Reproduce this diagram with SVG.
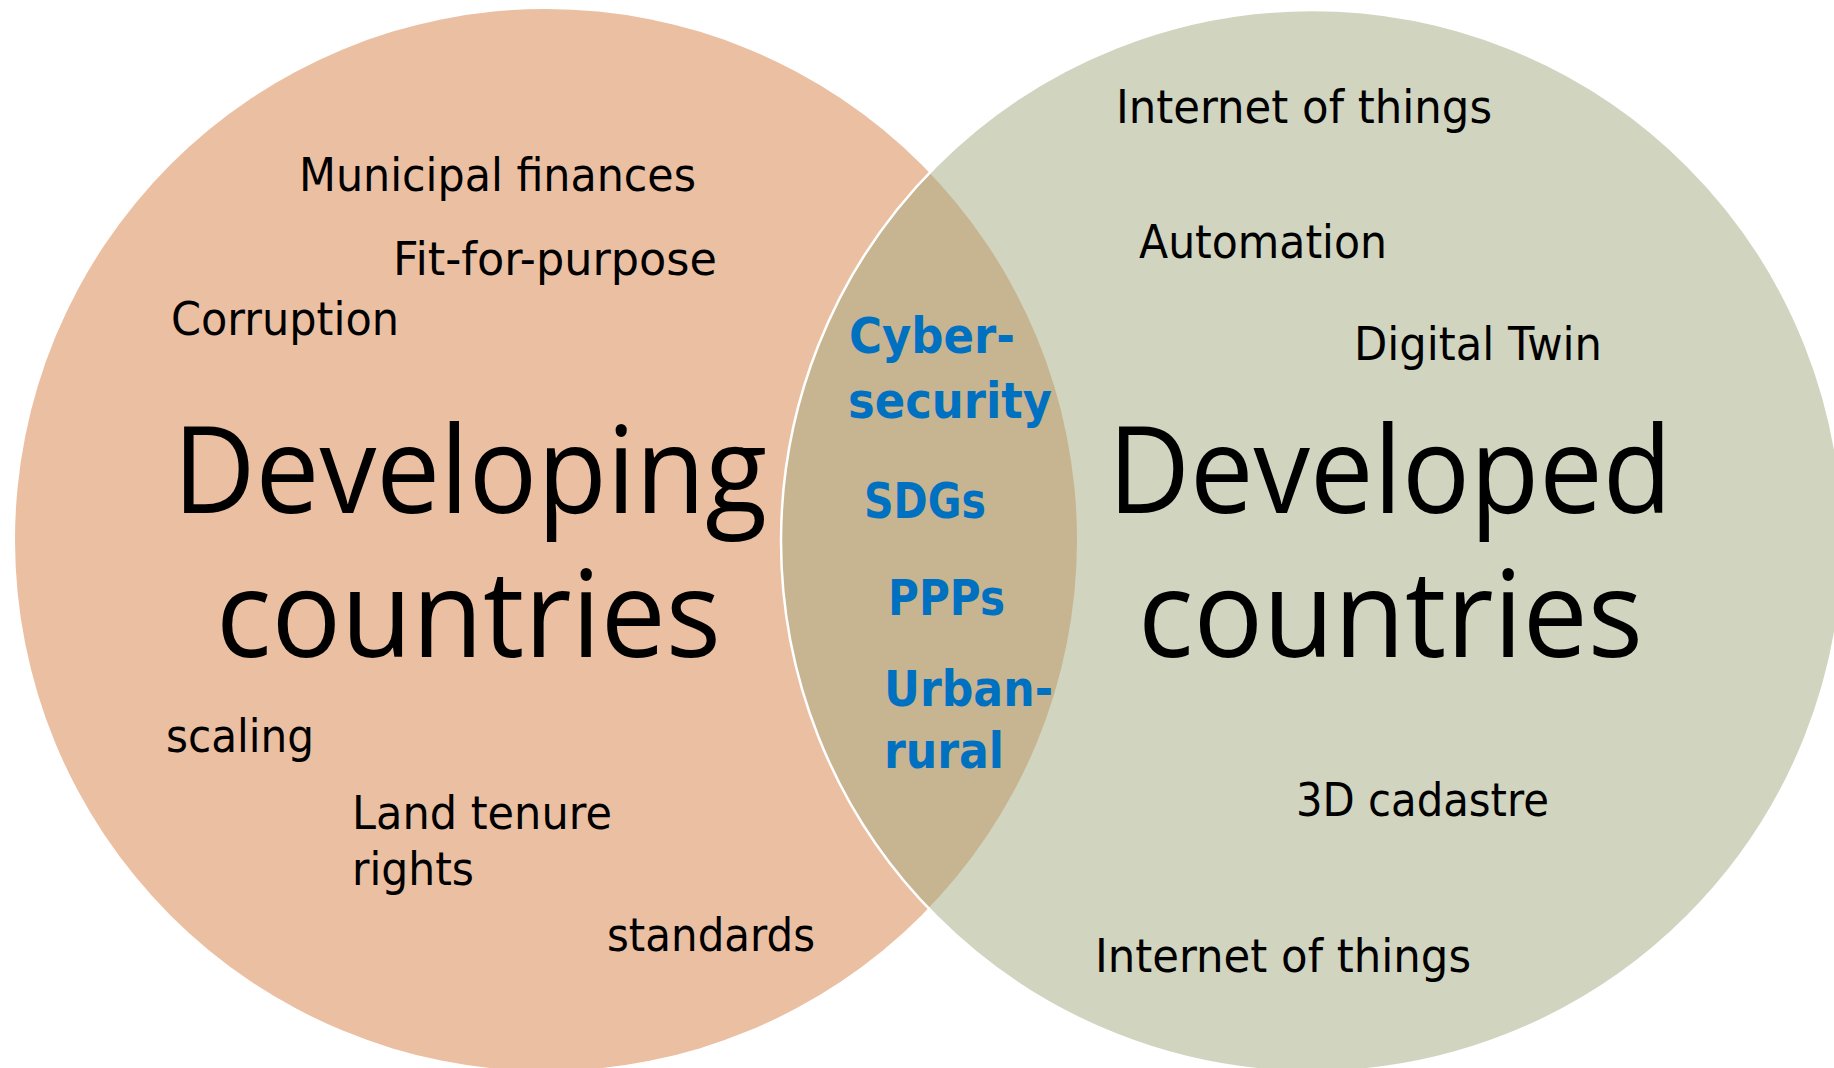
<svg xmlns="http://www.w3.org/2000/svg" width="1834" height="1068" viewBox="0 0 1834 1068">
  <style>
    .lbl { font-family: "DejaVu Sans", "Liberation Sans", sans-serif; font-size: 47px; fill: #000; }
    .big { font-family: "Open Sans", "Noto Sans", sans-serif; font-size: 121px; fill: #000; }
    .mid { font-family: "DejaVu Sans", "Liberation Sans", sans-serif; font-weight: bold; font-size: 50px; fill: #0070C0; }
  </style>
  <rect width="1834" height="1068" fill="#ffffff"/>
  <g id="developing">
    <circle cx="546" cy="540" r="531" fill="#EBBFA2"/>
  </g>
  <g id="developed">
    <circle cx="1312" cy="541" r="531" fill="rgb(163,169,127)" fill-opacity="0.5" stroke="#ffffff" stroke-width="2.5"/>
  </g>
  <g id="developing-labels">
    <text class="big" x="173" y="513" textLength="594" lengthAdjust="spacingAndGlyphs">Developing</text>
    <text class="big" x="216" y="657" textLength="505" lengthAdjust="spacingAndGlyphs">countries</text>
    <text class="lbl" x="299" y="191" textLength="397" lengthAdjust="spacingAndGlyphs">Municipal finances</text>
    <text class="lbl" x="393" y="275" textLength="324" lengthAdjust="spacingAndGlyphs">Fit-for-purpose</text>
    <text class="lbl" x="171" y="335" textLength="228" lengthAdjust="spacingAndGlyphs">Corruption</text>
    <text class="lbl" x="166" y="752" textLength="148" lengthAdjust="spacingAndGlyphs">scaling</text>
    <text class="lbl" x="352" y="829" textLength="260" lengthAdjust="spacingAndGlyphs">Land tenure</text>
    <text class="lbl" x="352" y="885" textLength="122" lengthAdjust="spacingAndGlyphs">rights</text>
    <text class="lbl" x="607" y="951" textLength="208" lengthAdjust="spacingAndGlyphs">standards</text>
  </g>
  <g id="developed-labels">
    <text class="big" x="1108" y="513" textLength="564" lengthAdjust="spacingAndGlyphs">Developed</text>
    <text class="big" x="1138" y="657" textLength="505" lengthAdjust="spacingAndGlyphs">countries</text>
    <text class="lbl" x="1116" y="123" textLength="376" lengthAdjust="spacingAndGlyphs">Internet of things</text>
    <text class="lbl" x="1139" y="258" textLength="248" lengthAdjust="spacingAndGlyphs">Automation</text>
    <text class="lbl" x="1354" y="360" textLength="248" lengthAdjust="spacingAndGlyphs">Digital Twin</text>
    <text class="lbl" x="1296" y="816" textLength="253" lengthAdjust="spacingAndGlyphs">3D cadastre</text>
    <text class="lbl" x="1095" y="972" textLength="376" lengthAdjust="spacingAndGlyphs">Internet of things</text>
  </g>
  <g id="shared-labels">
    <text class="mid" x="849" y="353" textLength="166" lengthAdjust="spacingAndGlyphs">Cyber-</text>
    <text class="mid" x="848" y="418" textLength="204" lengthAdjust="spacingAndGlyphs">security</text>
    <text class="mid" x="864" y="518" textLength="122" lengthAdjust="spacingAndGlyphs">SDGs</text>
    <text class="mid" x="888" y="615" textLength="117" lengthAdjust="spacingAndGlyphs">PPPs</text>
    <text class="mid" x="884" y="706" textLength="169" lengthAdjust="spacingAndGlyphs">Urban-</text>
    <text class="mid" x="884" y="768" textLength="120" lengthAdjust="spacingAndGlyphs">rural</text>
  </g>
</svg>
